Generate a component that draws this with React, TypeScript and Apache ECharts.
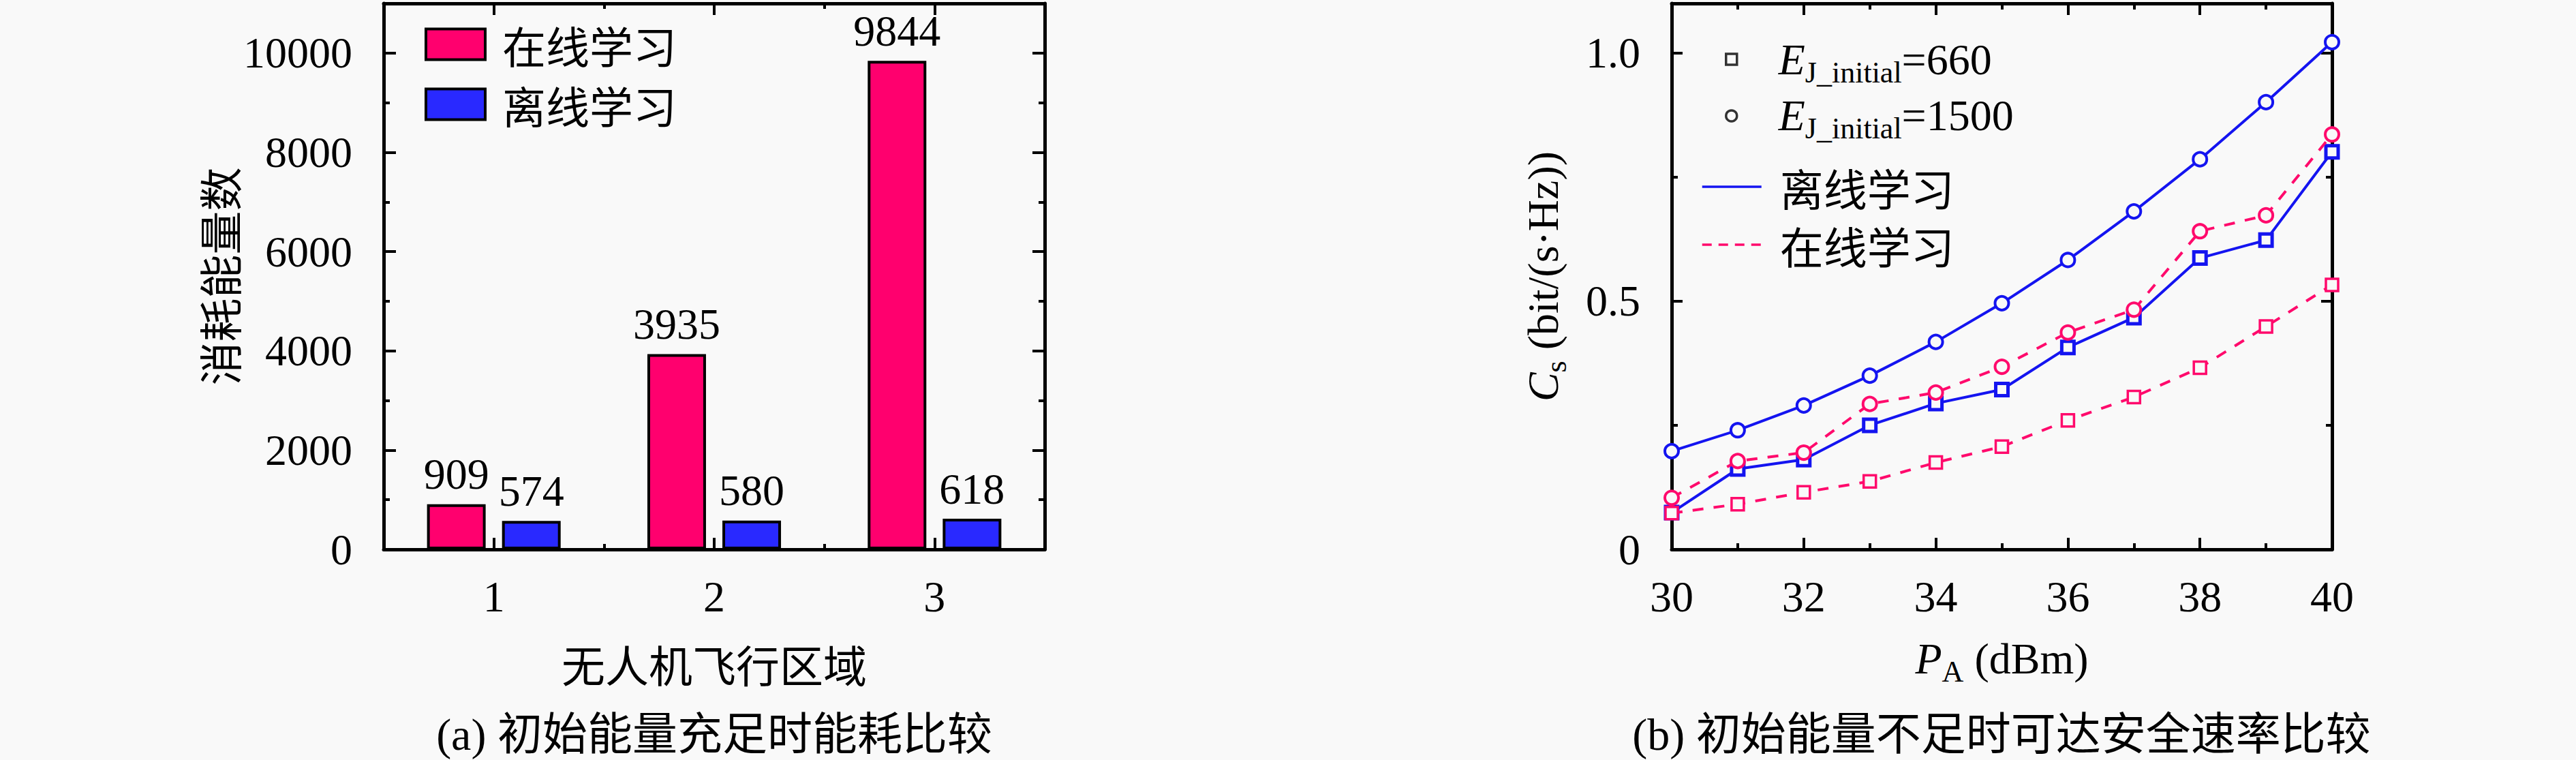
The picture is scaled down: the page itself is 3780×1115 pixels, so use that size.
import React, { useEffect, useRef } from 'react';
import * as echarts from 'echarts';

// ---------- data ----------
const regions = ['1', '2', '3'];
const onlineEnergy = [909, 3935, 9844];
const offlineEnergy = [574, 580, 618];

const powerDbm = [30, 31, 32, 33, 34, 35, 36, 37, 38, 39, 40];
const offline660 = [0.074, 0.162, 0.181, 0.25, 0.294, 0.322, 0.407, 0.467, 0.587, 0.623, 0.801];
const offline1500 = [0.198, 0.24, 0.29, 0.35, 0.418, 0.496, 0.583, 0.681, 0.786, 0.901, 1.022];
const online660 = [0.073, 0.091, 0.115, 0.137, 0.175, 0.207, 0.26, 0.307, 0.366, 0.449, 0.533];
const online1500 = [0.104, 0.178, 0.195, 0.293, 0.316, 0.368, 0.437, 0.483, 0.641, 0.673, 0.836];

const energyAxis = { min: 0, max: 11000, major: 2000, minor: 1000, lastLabel: 10000 };
const rateAxis = { min: 0, max: 1.1, major: 0.5, minor: 0.25, lastLabel: 1.0 };
const powerAxis = { min: 30, max: 40, major: 2 };

const captionA = '(a) 初始能量充足时能耗比较';
const captionB = '(b) 初始能量不足时可达安全速率比较';

// ---------- style ----------
const BG = '#f9f9f9';
const SERIF = "'Liberation Serif', 'Noto Sans CJK SC', serif";
const CJK = "'Noto Sans CJK SC', sans-serif";
const PINK = '#ff006e';
const BLUE_BAR = '#2929ff';
const BLUE = '#1414f0';
const PINK_LINE = '#ff0a6c';
const FS = 64;
const SUB = 44;

const lineSt = { color: '#000', width: 5 };
const tickSt = { color: '#000', width: 4 };

const zip = (xs: number[], ys: number[]) => xs.map((x, i) => [x, ys[i]]);

export default function App() {
  const ref = useRef<HTMLDivElement>(null);
  useEffect(() => {
    document.body.style.margin = '0';
    document.body.style.background = BG;
    const chart = echarts.init(ref.current!, null, { renderer: 'svg' });

    const catAxis = (position: string, centers: boolean, withLine: boolean, labels: boolean) => ({
      gridIndex: 0,
      type: 'category',
      data: regions,
      position,
      boundaryGap: true,
      axisLine: { show: withLine, onZero: false, lineStyle: lineSt },
      axisTick: { show: true, alignWithLabel: centers, interval: 0, inside: true, length: centers ? 17 : 8, lineStyle: tickSt },
      axisLabel: labels
        ? { show: true, interval: 0, margin: 37, fontSize: FS, fontFamily: SERIF, color: '#000' }
        : { show: false },
      splitLine: { show: false },
    });

    const valY = (grid: number, position: string, cfg: any, step: number, len: number, withLine: boolean, labelFmt: any) => ({
      gridIndex: grid,
      type: 'value',
      position,
      min: cfg.min,
      max: cfg.max,
      interval: step,
      axisLine: { show: withLine, onZero: false, lineStyle: lineSt },
      axisTick: { show: true, inside: true, length: len, lineStyle: tickSt },
      axisLabel: labelFmt
        ? { show: true, margin: 46, fontSize: FS, fontFamily: SERIF, color: '#000', formatter: labelFmt, showMaxLabel: false }
        : { show: false },
      splitLine: { show: false },
    });

    const energyFmt = (v: number) => (v > energyAxis.lastLabel ? '' : String(v));
    const rateFmt = (v: number) => (v > rateAxis.lastLabel + 0.01 ? '' : v === 0 ? '0' : v.toFixed(1));

    const yAxes: any[] = [
      {
        ...valY(0, 'left', energyAxis, energyAxis.major, 18, true, energyFmt),
        name: '消耗能量数',
        nameLocation: 'middle',
        nameGap: 211,
        nameTextStyle: { fontSize: FS, fontFamily: CJK, color: '#000', lineHeight: FS },
      },
      valY(0, 'left', energyAxis, energyAxis.minor, 9, false, null),
      valY(0, 'right', energyAxis, energyAxis.major, 18, true, null),
      valY(0, 'right', energyAxis, energyAxis.minor, 9, false, null),
      {
        ...valY(1, 'left', rateAxis, rateAxis.major, 16, true, rateFmt),
        name: '{c|C}{s|s}{n| (bit/(s·Hz))}',
        nameLocation: 'middle',
        nameGap: 157,
        nameTextStyle: {
          color: '#000',
          rich: {
            c: { fontSize: FS, lineHeight: FS, fontFamily: SERIF, fontStyle: 'italic', color: '#000' },
            s: { fontSize: SUB, lineHeight: SUB, fontFamily: SERIF, padding: [38, 0, 0, 0], color: '#000' },
            n: { fontSize: FS, lineHeight: FS, fontFamily: SERIF, color: '#000' },
          },
        },
      },
      valY(1, 'left', rateAxis, rateAxis.minor, 9, false, null),
      valY(1, 'right', rateAxis, rateAxis.major, 16, true, null),
      valY(1, 'right', rateAxis, rateAxis.minor, 9, false, null),
    ];

    const powerX = (position: string, labels: boolean) => ({
      gridIndex: 1,
      type: 'value',
      position,
      min: powerAxis.min,
      max: powerAxis.max,
      interval: powerAxis.major,
      axisLine: { show: true, onZero: false, lineStyle: lineSt },
      axisTick: { show: true, inside: true, length: 17, lineStyle: tickSt },
      minorTick: { show: true, splitNumber: 2, length: 9, lineStyle: tickSt },
      axisLabel: labels
        ? { show: true, margin: 37, fontSize: FS, fontFamily: SERIF, color: '#000' }
        : { show: false },
      splitLine: { show: false },
      minorSplitLine: { show: false },
    });

    const xAxes: any[] = [
      {
        ...catAxis('bottom', true, true, true),
        name: '无人机飞行区域',
        nameLocation: 'middle',
        nameGap: 135,
        nameTextStyle: { fontSize: FS, fontFamily: CJK, color: '#000', lineHeight: FS },
      },
      catAxis('bottom', false, false, false),
      catAxis('top', true, true, false),
      catAxis('top', false, false, false),
      {
        ...powerX('bottom', true),
        name: '{p|P}{a|A}{n| (dBm)}',
        nameLocation: 'middle',
        nameGap: 128,
        nameTextStyle: {
          color: '#000',
          rich: {
            p: { fontSize: FS, lineHeight: FS, fontFamily: SERIF, fontStyle: 'italic', color: '#000' },
            a: { fontSize: SUB, lineHeight: SUB, fontFamily: SERIF, padding: [38, 0, 0, 0], color: '#000' },
            n: { fontSize: FS, lineHeight: FS, fontFamily: SERIF, color: '#000' },
          },
        },
      },
      powerX('top', false),
    ];

    const barLabel = { show: true, position: 'top', distance: 12, fontSize: FS, fontFamily: SERIF, color: '#000' };

    const mk = (name: string, ys: number[], color: string, symbol: string, size: number, border: number, dashed: boolean) => ({
      type: 'line',
      name,
      xAxisIndex: 4,
      yAxisIndex: 4,
      data: zip(powerDbm, ys),
      symbol,
      symbolSize: size,
      showSymbol: true,
      itemStyle: { color: BG, borderColor: color, borderWidth: border },
      lineStyle: { color, width: 4, type: dashed ? [16, 15] : 'solid' },
      z: dashed ? 4 : 3,
    });

    const richE = {
      e: { fontSize: FS, lineHeight: FS, fontFamily: SERIF, fontStyle: 'italic', color: '#000', padding: [0, 0, 0, 56] },
      s: { fontSize: SUB, lineHeight: SUB, fontFamily: SERIF, color: '#000', padding: [38, 0, 0, 0] },
      n: { fontSize: FS, lineHeight: FS, fontFamily: SERIF, color: '#000' },
    };

    const option: any = {
      animation: false,
      backgroundColor: BG,
      textStyle: { fontFamily: SERIF },
      grid: [
        { left: 563, top: 5, width: 970, height: 801, containLabel: false },
        { left: 2453, top: 5, width: 969, height: 801, containLabel: false },
      ],
      xAxis: xAxes,
      yAxis: yAxes,
      legend: [
        {
          orient: 'vertical',
          left: 623,
          top: 33,
          padding: 0,
          itemWidth: 87,
          itemHeight: 45,
          itemGap: 24,
          selectedMode: false,
          icon: 'rect',
          data: ['在线学习', '离线学习'],
          itemStyle: { borderColor: '#000', borderWidth: 4 },
          formatter: (n: string) => `{t|${n}}`,
          textStyle: { rich: { t: { fontSize: FS, lineHeight: FS, fontFamily: CJK, color: '#000', padding: [0, 0, 0, 20] } } },
        },
        {
          orient: 'vertical',
          left: 2531,
          top: 46,
          padding: 0,
          itemWidth: 16,
          itemHeight: 16,
          itemGap: 1,
          selectedMode: false,
          data: [
            { name: 'E660', icon: 'rect' },
            { name: 'E1500', icon: 'circle' },
          ],
          itemStyle: { color: BG, borderColor: '#000', borderWidth: 3.5 },
          formatter: (n: string) => (n === 'E660' ? '{e|E}{s|J_initial}{n|=660}' : '{e|E}{s|J_initial}{n|=1500}'),
          textStyle: { rich: richE },
        },
        {
          orient: 'vertical',
          left: 2496,
          top: 242,
          padding: 0,
          itemWidth: 87,
          itemHeight: 14,
          itemGap: 21,
          selectedMode: false,
          itemStyle: { opacity: 0 },
          lineStyle: { width: 3.5 },
          data: ['offline', 'online'],
          formatter: (n: string) => (n === 'offline' ? '{t|离线学习}' : '{t|在线学习}'),
          textStyle: { rich: { t: { fontSize: FS, lineHeight: FS, fontFamily: CJK, color: '#000', padding: [0, 0, 0, 22] } } },
        },
      ],
      series: [
        {
          type: 'bar',
          name: '在线学习',
          xAxisIndex: 0,
          yAxisIndex: 0,
          data: onlineEnergy,
          barWidth: 86,
          barGap: '28%',
          itemStyle: { color: PINK, borderColor: '#000', borderWidth: 4 },
          label: barLabel,
        },
        {
          type: 'bar',
          name: '离线学习',
          xAxisIndex: 0,
          yAxisIndex: 0,
          data: offlineEnergy,
          barWidth: 86,
          barGap: '28%',
          itemStyle: { color: BLUE_BAR, borderColor: '#000', borderWidth: 4 },
          label: barLabel,
        },
        mk('离线-660', offline660, BLUE, 'rect', 18, 5, false),
        mk('离线-1500', offline1500, BLUE, 'circle', 20, 4, false),
        mk('在线-660', online660, PINK_LINE, 'rect', 18, 3.5, true),
        mk('在线-1500', online1500, PINK_LINE, 'circle', 20, 4, true),
        { type: 'scatter', name: 'E660', xAxisIndex: 4, yAxisIndex: 4, data: [], symbol: 'rect' },
        { type: 'scatter', name: 'E1500', xAxisIndex: 4, yAxisIndex: 4, data: [], symbol: 'circle' },
        { type: 'line', name: 'offline', xAxisIndex: 4, yAxisIndex: 4, data: [], symbol: 'none', lineStyle: { color: BLUE, width: 3.5 }, itemStyle: { color: BLUE } },
        { type: 'line', name: 'online', xAxisIndex: 4, yAxisIndex: 4, data: [], symbol: 'none', lineStyle: { color: PINK_LINE, width: 3.5, type: [14, 10] }, itemStyle: { color: PINK_LINE } },
      ],
      graphic: [
        {
          type: 'text',
          x: 1048,
          y: 1077,
          style: { text: captionA, fontSize: 66, fontFamily: SERIF, fill: '#000', textAlign: 'center', textVerticalAlign: 'middle', verticalAlign: 'middle' },
        },
        {
          type: 'text',
          x: 2937,
          y: 1077,
          style: { text: captionB, fontSize: 66, fontFamily: SERIF, fill: '#000', textAlign: 'center', textVerticalAlign: 'middle', verticalAlign: 'middle' },
        },
      ],
    };
    chart.setOption(option);
    return () => chart.dispose();
  }, []);
  return <div ref={ref} style={{ width: 3780, height: 1115, background: BG }} />;
}
